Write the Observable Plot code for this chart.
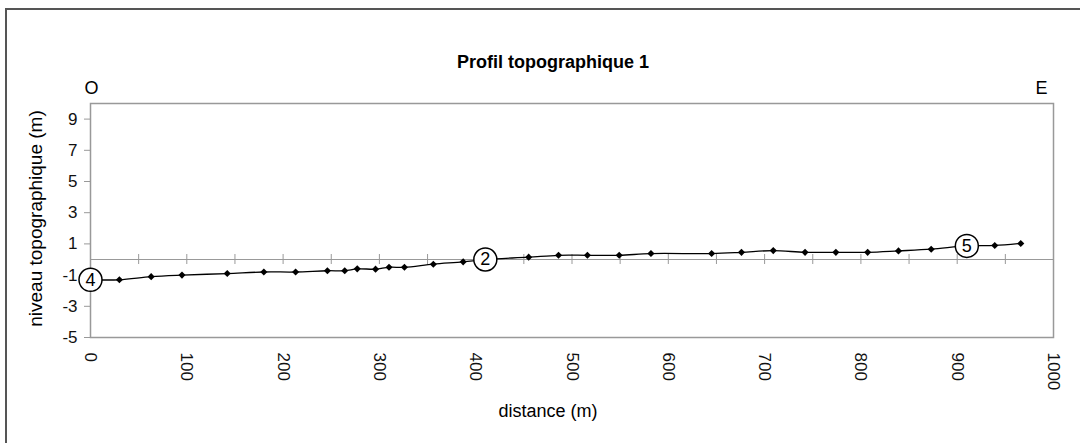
<!DOCTYPE html>
<html>
<head>
<meta charset="utf-8">
<script src="https://cdn.jsdelivr.net/npm/d3@7"></script>
<script src="https://cdn.jsdelivr.net/npm/@observablehq/plot@0.6"></script>
<style>
  html, body { margin: 0; padding: 0; background: #fff; overflow: hidden; }
  #wrap { position: relative; width: 1080px; height: 443px; }
  #border { position: absolute; left: 5px; top: 8px; width: 1200px; height: 600px;
            border-left: 2px solid #555; border-top: 2px solid #555; }
  #chart { position: absolute; left: 0; top: 0; }
  svg { font-family: "Liberation Sans", Arial, sans-serif; }
</style>
</head>
<body>
<div id="wrap"><div id="border"></div><div id="chart"></div></div>
<script>
// distance (m)
const distance = [0, 30, 63, 95, 142, 180, 213, 246, 264, 277, 296, 310, 326, 356, 387, 410,
  455, 486, 516, 549, 582, 645, 676, 709, 742, 774, 807, 839, 873, 910, 939, 966];
// niveau topographique (m)
const niveau = [-1.3, -1.3, -1.1, -1.0, -0.9, -0.8, -0.8, -0.72, -0.72, -0.6, -0.62, -0.5, -0.5, -0.3, -0.15, 0.0,
  0.15, 0.27, 0.27, 0.27, 0.38, 0.38, 0.46, 0.57, 0.46, 0.46, 0.46, 0.55, 0.66, 0.87, 0.9, 1.03];
// circled station labels
const stationLabels = ["4", "2", "5"];
const stationDistance = [0, 410, 910];
const stationNiveau = [-1.3, 0.0, 0.87];
// axis ticks
const yTicks = [-5, -3, -1, 1, 3, 5, 7, 9];
const xTicks = [0, 100, 200, 300, 400, 500, 600, 700, 800, 900, 1000];
const zeroTicks = d3.range(50, 1000, 50);

const data = distance.map((d, i) => ({distance: d, niveau: niveau[i]}));
const stations = stationLabels.map((l, i) => ({label: l, distance: stationDistance[i], niveau: stationNiveau[i]}));

const chart = Plot.plot({
  width: 1080,
  height: 443,
  marginLeft: 90,
  marginRight: 27,
  marginTop: 103,
  marginBottom: 106,
  style: {fontFamily: "Liberation Sans, Arial, sans-serif", background: "transparent"},
  x: {domain: [0, 1000], ticks: xTicks},
  y: {domain: [-5, 10], ticks: yTicks},
  marks: [
    Plot.axisY({ticks: yTicks, tickSize: 6, stroke: "#999", tickFormat: () => "", label: null}),
    Plot.axisX({ticks: xTicks, tickSize: 0, tickFormat: () => "", label: null}),
    Plot.text(yTicks, {frameAnchor: "left", y: d => d, text: d => String(d), dx: -13, textAnchor: "end", lineAnchor: "middle", fontSize: 17, fill: "#111"}),
    Plot.text(xTicks, {frameAnchor: "bottom", x: d => d, text: d => String(d), dy: 15, rotate: 90, textAnchor: "start", lineAnchor: "middle", fontSize: 17, fill: "#111"}),
    Plot.frame({stroke: "#999", strokeWidth: 1.5}),
    Plot.ruleY([0], {stroke: "#999", strokeWidth: 1.2}),
    Plot.ruleX(zeroTicks, {x: d => d, y1: 0, y2: 0, insetTop: -5, insetBottom: -5, stroke: "#999"}),
    Plot.line(data, {x: "distance", y: "niveau", curve: "catmull-rom", stroke: "#000", strokeWidth: 1.3}),
    Plot.dot(data, {x: "distance", y: "niveau", symbol: "diamond2", r: 3.2, fill: "#000", stroke: "none"}),
    Plot.dot(stations, {x: "distance", y: "niveau", r: 11.5, fill: "#fff", stroke: "#000", strokeWidth: 1.5}),
    Plot.text(stations, {x: "distance", y: "niveau", text: "label", fontSize: 18, fill: "#000"}),
    Plot.text(["Profil topographique 1"], {frameAnchor: "top", lineAnchor: "middle", dy: -41, dx: -19, fontSize: 18, fontWeight: "bold", fill: "#000"}),
    Plot.text(["O"], {frameAnchor: "top-left", lineAnchor: "middle", dy: -15, dx: 1, textAnchor: "middle", fontSize: 18, fill: "#000"}),
    Plot.text(["E"], {frameAnchor: "top-right", lineAnchor: "middle", dy: -15, dx: -12, textAnchor: "middle", fontSize: 18, fill: "#000"}),
    Plot.text(["niveau topographique (m)"], {frameAnchor: "left", textAnchor: "middle", lineAnchor: "middle", dx: -55, dy: -2, rotate: -90, fontSize: 19, fill: "#000"}),
    Plot.text(["distance (m)"], {frameAnchor: "bottom", lineAnchor: "middle", dy: 74, dx: -24, fontSize: 18, fill: "#000"})
  ]
});
document.getElementById("chart").appendChild(chart);
</script>
</body>
</html>
